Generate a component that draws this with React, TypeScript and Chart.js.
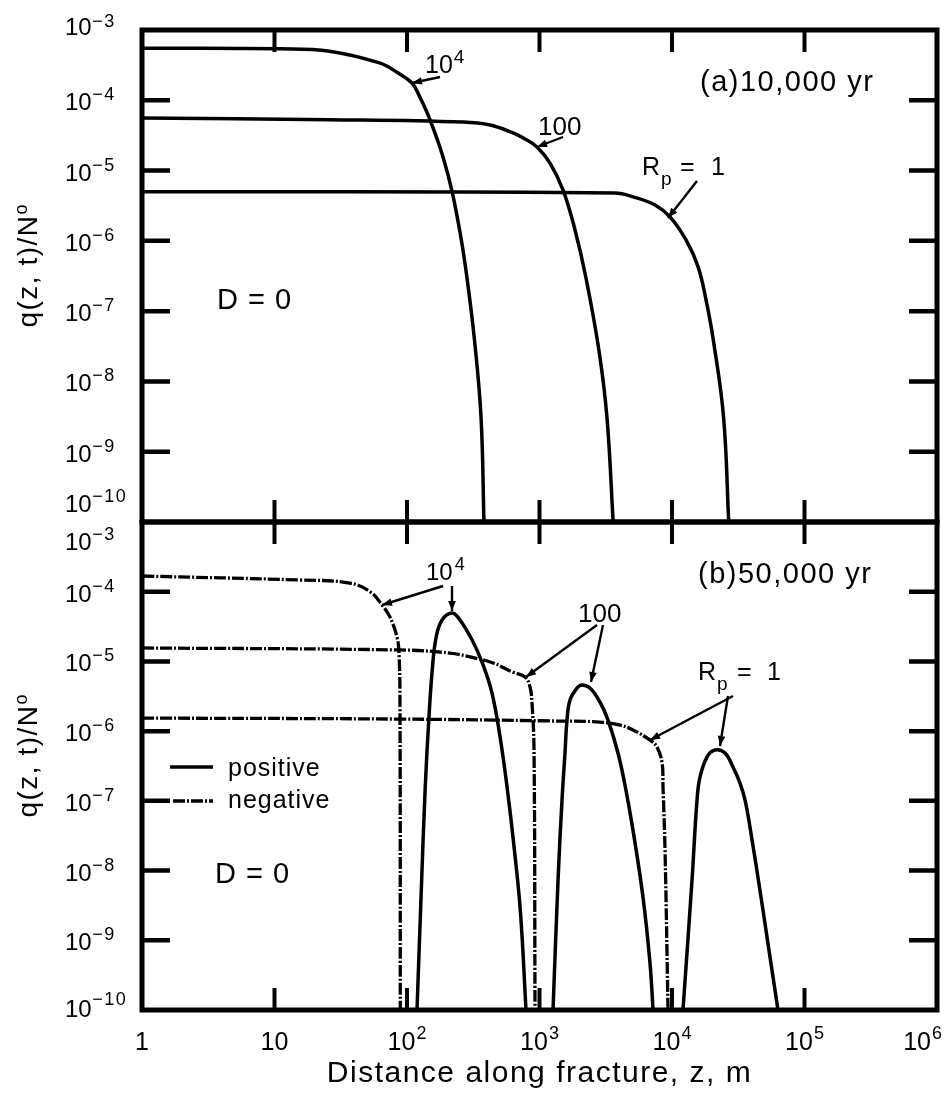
import React, { useEffect, useRef } from 'react';
import { Chart, registerables } from 'chart.js';

Chart.register(...registerables);

const W = 944;
const H = 1098;
const FONT = '"Liberation Sans", Arial, Helvetica, sans-serif';

// ---------------- Panel (a) 10,000 yr : all positive ----------------
const a_rp1e4_z = [1, 11, 26, 62, 84, 109, 125, 149, 187, 220, 257, 283, 323, 362, 381];
const a_rp1e4_q = [5.5e-4, 5.4e-4, 5.0e-4, 3.4e-4, 2.5e-4, 1.76e-4, 1.11e-4, 5.3e-5, 1.56e-5, 4.8e-6, 1.03e-6, 3.06e-7, 3.9e-8, 3.1e-9, 1e-10];

const a_rp100_z = [1, 26, 265, 423, 631, 778, 957, 1200, 1504, 1854, 2235, 2806, 3228, 3597];
const a_rp100_q = [5.6e-5, 5.3e-5, 4.9e-5, 4.45e-5, 3.43e-5, 2.81e-5, 2.17e-5, 1.28e-5, 5.3e-6, 1.43e-6, 3.06e-7, 2.8e-8, 3.1e-9, 1e-10];

const a_rp1_z = [1, 3715, 5160, 7450, 9660, 12760, 15720, 18060, 20500, 24500, 26800];
const a_rp1_q = [5.0e-6, 4.8e-6, 4.2e-6, 3.24e-6, 2.19e-6, 1.03e-6, 4.3e-7, 1.45e-7, 3.9e-8, 3.1e-9, 1e-10];

// ---------------- Panel (b) 50,000 yr : negative (dashed) + positive (solid) ----------------
const b_rp1e4_neg_z = [1, 15.6, 37, 53, 65, 74.5, 84, 87, 88.5, 89];
const b_rp1e4_neg_q = [1.68e-4, 1.47e-4, 1.33e-4, 9.9e-5, 6.4e-5, 4.3e-5, 2.24e-5, 1.32e-5, 2.8e-6, 1e-10];
const b_rp1e4_pos_z = [119, 129, 137, 146, 155, 166, 184, 219, 251, 310, 368, 438, 504, 569, 643, 719, 791];
const b_rp1e4_pos_q = [1e-10, 7.3e-9, 1.43e-7, 1.44e-6, 7.5e-6, 2.24e-5, 3.93e-5, 4.94e-5, 3.93e-5, 2.03e-5, 9.8e-6, 3.52e-6, 8.24e-7, 1.58e-7, 2.18e-8, 2.46e-9, 1e-10];

const b_rp100_neg_z = [1, 88.5, 211, 299, 446, 631, 778, 848, 878, 909, 925];
const b_rp100_neg_q = [1.56e-5, 1.46e-5, 1.32e-5, 1.16e-5, 9.5e-6, 7.0e-6, 6.0e-6, 4.3e-6, 2.53e-6, 5.4e-7, 1e-10];
const b_rp100_pos_z = [1265, 1380, 1479, 1557, 1613, 1700, 1919, 2094, 2405, 2862, 3289, 3911, 4416, 5076, 6039, 6823, 7195];
const b_rp100_pos_q = [1e-10, 7.3e-9, 1.03e-7, 4.85e-7, 1.44e-6, 2.8e-6, 4.15e-6, 4.6e-6, 4.15e-6, 2.6e-6, 1.44e-6, 4.85e-7, 1.69e-7, 3.8e-8, 4.17e-9, 4.7e-10, 1e-10];

const b_rp1_neg_z = [1, 88.5, 1200, 2862, 4052, 5076, 6823, 7711, 8414, 8554, 8856, 9333];
const b_rp1_neg_q = [1.54e-6, 1.49e-6, 1.4e-6, 1.35e-6, 1.22e-6, 1.04e-6, 7.45e-7, 5.9e-7, 3.5e-7, 1.58e-7, 2.0e-8, 1e-10];
const b_rp1_pos_z = [12100, 14160, 15450, 16260, 18360, 21130, 25120, 28860, 32590, 35560, 39100, 46950, 53500, 63100];
const b_rp1_pos_q = [1e-10, 7.3e-9, 1.03e-7, 2.19e-7, 4.25e-7, 5.36e-7, 4.85e-7, 3.06e-7, 1.8e-7, 1.03e-7, 3.81e-8, 4.17e-9, 7.98e-10, 1e-10];

// ---------------- Axes ----------------
const X_MIN = 1;
const X_MAX = 1e6;
const Y_MIN = 1e-10;
const Y_MAX = 1e-3;
const xTickExps = [0, 1, 2, 3, 4, 5, 6];
const yTickExps = [-3, -4, -5, -6, -7, -8, -9, -10];
const xTitle = 'Distance along fracture, z, m';
const yTitleMain = 'q(z, t)/N';
const yTitleSup = 'o';
const panelTitles = { top: '(a)10,000 yr', bottom: '(b)50,000 yr' };

const DASH = [12, 2, 2, 2];

function pts(z: number[], q: number[]) {
  return z.map((x, i) => ({ x, y: q[i] }));
}

function ds(label: string, z: number[], q: number[], negative: boolean) {
  return {
    label,
    data: pts(z, q),
    borderColor: '#000',
    backgroundColor: '#000',
    borderWidth: negative ? 3.3 : 3.5,
    borderDash: negative ? DASH : [],
    borderCapStyle: 'butt',
    borderJoinStyle: 'round',
    pointRadius: 0,
    fill: false,
    tension: 0.4,
  };
}

function setFont(ctx: CanvasRenderingContext2D, size: number, spacing = 0) {
  ctx.font = `${size}px ${FONT}`;
  (ctx as any).letterSpacing = `${spacing}px`;
}

function supStr(e: number) {
  return e < 0 ? '\u2212' + String(-e) : String(e);
}

function arrow(ctx: CanvasRenderingContext2D, x1: number, y1: number, x2: number, y2: number) {
  ctx.save();
  ctx.strokeStyle = '#000';
  ctx.fillStyle = '#000';
  ctx.lineWidth = 2.4;
  ctx.setLineDash([]);
  ctx.beginPath();
  ctx.moveTo(x1, y1);
  ctx.lineTo(x2, y2);
  ctx.stroke();
  const a = Math.atan2(y2 - y1, x2 - x1);
  const L = 10;
  const hw = 3.8;
  ctx.beginPath();
  ctx.moveTo(x2, y2);
  ctx.lineTo(x2 - L * Math.cos(a) + hw * Math.sin(a), y2 - L * Math.sin(a) - hw * Math.cos(a));
  ctx.lineTo(x2 - L * Math.cos(a) - hw * Math.sin(a), y2 - L * Math.sin(a) + hw * Math.cos(a));
  ctx.closePath();
  ctx.fill();
  ctx.restore();
}

function text(ctx: CanvasRenderingContext2D, s: string, x: number, y: number, size: number, spacing = 0) {
  setFont(ctx, size, spacing);
  ctx.textAlign = 'left';
  ctx.textBaseline = 'alphabetic';
  ctx.fillText(s, x, y);
  return ctx.measureText(s).width;
}

function makePlugin(panel: 'top' | 'bottom') {
  return {
    id: 'decor_' + panel,
    afterDraw(chart: any) {
      const ctx: CanvasRenderingContext2D = chart.ctx;
      const { left, right, top, bottom } = chart.chartArea;
      const xs = chart.scales.x;
      const ys = chart.scales.y;
      ctx.save();
      ctx.fillStyle = '#000';
      ctx.strokeStyle = '#000';
      ctx.setLineDash([]);

      // frame
      ctx.lineWidth = 5;
      ctx.strokeRect(left, top, right - left, bottom - top);

      // y ticks (inward, both sides)
      ctx.lineWidth = 4.5;
      for (const e of yTickExps) {
        if (e === -3 || e === -10) continue;
        const y = ys.getPixelForValue(Math.pow(10, e));
        ctx.beginPath();
        ctx.moveTo(left, y);
        ctx.lineTo(left + 28, y);
        ctx.moveTo(right, y);
        ctx.lineTo(right - 28, y);
        ctx.stroke();
      }
      // x ticks (inward, top and bottom)
      ctx.lineWidth = 4;
      for (const e of xTickExps) {
        if (e === 0 || e === 6) continue;
        const x = xs.getPixelForValue(Math.pow(10, e));
        ctx.beginPath();
        ctx.moveTo(x, top);
        ctx.lineTo(x, top + 22);
        ctx.moveTo(x, bottom);
        ctx.lineTo(x, bottom - 22);
        ctx.stroke();
      }

      // y tick labels
      const offs: any =
        panel === 'top'
          ? { '-3': [5, -3], '-10': [-10, -20] }
          : { '-3': [28, 18], '-10': [7, -5] };
      for (const e of yTickExps) {
        const y = ys.getPixelForValue(Math.pow(10, e));
        const o = offs[String(e)] || [10, 0];
        const w = text(ctx, '10', 65, y + o[0], 24);
        text(ctx, supStr(e), 65 + w + 0.5, y + o[1], 18, 1.5);
      }

      // y title (rotated)
      {
        const cy = (top + bottom) / 2 - 10;
        ctx.save();
        ctx.translate(37, cy);
        ctx.rotate(-Math.PI / 2);
        setFont(ctx, 28, 1.5);
        const w1 = ctx.measureText(yTitleMain).width;
        setFont(ctx, 18, 0);
        const w2 = ctx.measureText(yTitleSup).width;
        const x0 = -(w1 + w2) / 2;
        text(ctx, yTitleMain, x0, 0, 28, 1.5);
        text(ctx, yTitleSup, x0 + w1, -10, 18, 0);
        ctx.restore();
      }

      if (panel === 'top') {
        text(ctx, panelTitles.top, 700, 91, 29, 1.5);
        text(ctx, 'D = 0', 217, 309, 29, 1);
        {
          const w = text(ctx, '10', 425, 73, 25);
          text(ctx, '4', 425 + w + 1, 63, 19);
          arrow(ctx, 440, 77, 412, 83);
        }
        text(ctx, '100', 538, 135, 26);
        arrow(ctx, 563, 137, 537, 147);
        text(ctx, 'R', 642, 175, 25);
        text(ctx, 'p', 661, 185, 19);
        text(ctx, '=', 680, 175, 25);
        text(ctx, '1', 711, 175, 25);
        arrow(ctx, 697, 181, 668, 218);
      } else {
        text(ctx, panelTitles.bottom, 698, 583, 29, 1.5);
        text(ctx, 'D = 0', 215, 883, 29, 1);
        {
          const w = text(ctx, '10', 426, 580, 24);
          text(ctx, '4', 426 + w + 2, 570, 18);
          arrow(ctx, 443, 586, 382, 605);
          arrow(ctx, 452, 586, 452, 611);
        }
        text(ctx, '100', 578, 622, 26);
        arrow(ctx, 597, 625, 526, 677);
        arrow(ctx, 603, 625, 591, 682);
        text(ctx, 'R', 698, 680, 25);
        text(ctx, 'p', 717, 690, 19);
        text(ctx, '=', 737, 680, 25);
        text(ctx, '1', 767, 680, 25);
        arrow(ctx, 733, 696, 650, 740);
        arrow(ctx, 728, 696, 720, 746);

        // legend
        ctx.lineWidth = 3.5;
        ctx.beginPath();
        ctx.moveTo(170, 767);
        ctx.lineTo(213, 767);
        ctx.stroke();
        ctx.setLineDash(DASH);
        ctx.lineWidth = 3.3;
        ctx.beginPath();
        ctx.moveTo(173, 801);
        ctx.lineTo(213, 801);
        ctx.stroke();
        ctx.setLineDash([]);
        text(ctx, 'positive', 228, 776, 25, 1);
        text(ctx, 'negative', 228, 808, 25, 1);

        // x tick labels
        for (const e of xTickExps) {
          const x = xs.getPixelForValue(Math.pow(10, e));
          const base = e === 0 ? '1' : '10';
          const sup = e >= 2 ? String(e) : '';
          setFont(ctx, 25, 0);
          const wb = ctx.measureText(base).width;
          setFont(ctx, 18, 0);
          const wsup = sup ? ctx.measureText(sup).width + 1 : 0;
          let x0 = x - (wb + wsup) / 2;
          if (x0 + wb + wsup > W - 2) x0 = W - 2 - wb - wsup;
          text(ctx, base, x0, bottom + 40, 25);
          if (sup) text(ctx, sup, x0 + wb + 1, bottom + 29, 18);
        }
        setFont(ctx, 30, 1.5);
        const tw = ctx.measureText(xTitle).width;
        text(ctx, xTitle, (left + right) / 2 - tw / 2, bottom + 72, 30, 1.5);
      }
      (ctx as any).letterSpacing = '0px';
      ctx.restore();
    },
  };
}

function makeConfig(panel: 'top' | 'bottom'): any {
  const datasets =
    panel === 'top'
      ? [
          ds('Rp = 10^4', a_rp1e4_z, a_rp1e4_q, false),
          ds('Rp = 100', a_rp100_z, a_rp100_q, false),
          ds('Rp = 1', a_rp1_z, a_rp1_q, false),
        ]
      : [
          ds('Rp = 10^4 negative', b_rp1e4_neg_z, b_rp1e4_neg_q, true),
          ds('Rp = 10^4 positive', b_rp1e4_pos_z, b_rp1e4_pos_q, false),
          ds('Rp = 100 negative', b_rp100_neg_z, b_rp100_neg_q, true),
          ds('Rp = 100 positive', b_rp100_pos_z, b_rp100_pos_q, false),
          ds('Rp = 1 negative', b_rp1_neg_z, b_rp1_neg_q, true),
          ds('Rp = 1 positive', b_rp1_pos_z, b_rp1_pos_q, false),
        ];
  const padding =
    panel === 'top'
      ? { left: 142, right: W - 937, top: 30, bottom: H - 522 }
      : { left: 142, right: W - 937, top: 522, bottom: H - 1010 };
  return {
    type: 'line',
    data: { datasets },
    options: {
      responsive: false,
      maintainAspectRatio: false,
      animation: false,
      events: [],
      layout: { padding },
      scales: {
        x: { type: 'logarithmic', min: X_MIN, max: X_MAX, display: false },
        y: { type: 'logarithmic', min: Y_MIN, max: Y_MAX, display: false },
      },
      plugins: {
        legend: { display: false },
        tooltip: { enabled: false },
      },
    },
    plugins: [makePlugin(panel)],
  };
}

export default function App() {
  const topRef = useRef<HTMLCanvasElement>(null);
  const botRef = useRef<HTMLCanvasElement>(null);
  useEffect(() => {
    const c1 = new Chart(topRef.current as HTMLCanvasElement, makeConfig('top'));
    const c2 = new Chart(botRef.current as HTMLCanvasElement, makeConfig('bottom'));
    return () => {
      c1.destroy();
      c2.destroy();
    };
  }, []);
  return (
    <div
      style={{
        position: 'absolute',
        left: 0,
        top: 0,
        width: W,
        height: H,
        background: '#fff',
        overflow: 'hidden',
      }}
    >
      <canvas ref={botRef} width={W} height={H} style={{ position: 'absolute', left: 0, top: 0 }} />
      <canvas ref={topRef} width={W} height={H} style={{ position: 'absolute', left: 0, top: 0 }} />
    </div>
  );
}
